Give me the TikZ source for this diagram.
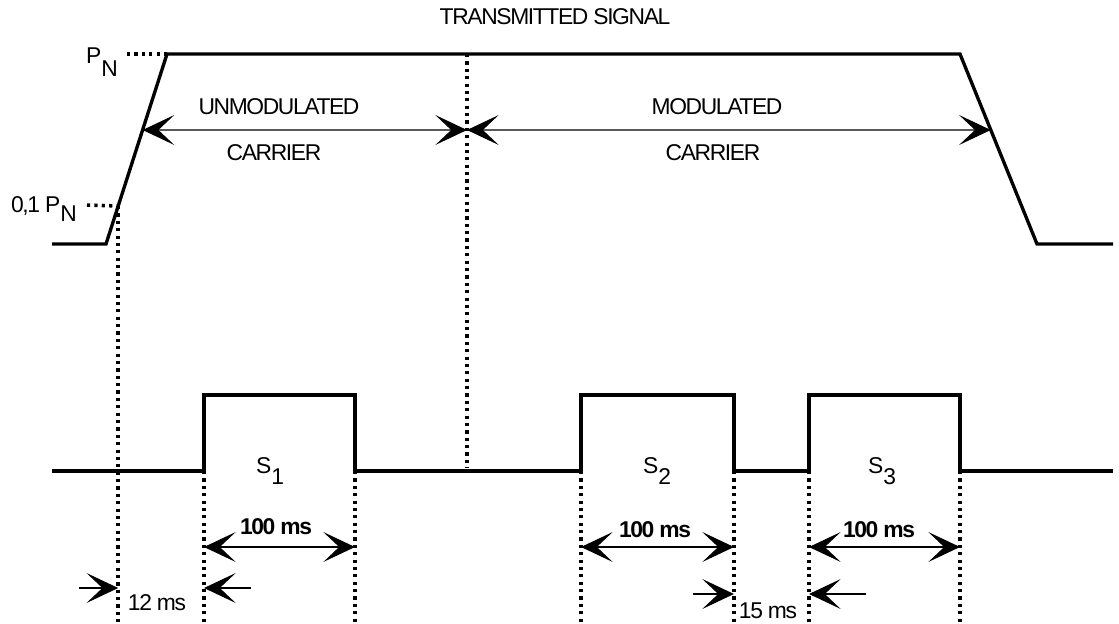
\documentclass[tikz,border=0pt]{standalone}
\usepackage{fontspec}
\setmainfont{Liberation Sans}[LetterSpace=-6]
\usepackage{tikz}
\usetikzlibrary{arrows.meta,positioning,calc}
\definecolor{Ink}{HTML}{000000}
\tikzset{
  >={Stealth[length=18pt,width=17pt,inset=9pt]},
  trace/.style={draw=Ink,line width=1.9pt},
  guide/.style={draw=Ink,line width=2pt,dash pattern=on 1.8pt off 2.4pt},
  dimarrow/.style={<->,draw=Ink,line width=0.6pt},
  leadarrow/.style={->,draw=Ink,line width=0.6pt},
  txt/.style={inner sep=0pt,font=\fontsize{13}{15}\selectfont,text=Ink},
  txtb/.style={txt,font=\fontsize{13}{15}\selectfont\bfseries}
}
\newcommand{\lowsub}[2]{#1\raisebox{-6pt}{#2}}

\begin{document}
\begin{tikzpicture}[x=0.02cm,y=-0.02cm]
  \useasboundingbox (0,0) rectangle (1119,623);
  % transmitted signal envelope
  \coordinate (env0) at (52,244);
  \coordinate (ramplo) at (106,244);
  \coordinate (ramphi) at (167,54);
  \coordinate (fallhi) at (960,54);
  \coordinate (falllo) at (1037,244);
  \coordinate (env1) at (1113,244);
  \draw[trace] (env0) -- (ramplo) -- (ramphi) -- (fallhi) -- (falllo) -- (env1);
  \coordinate (p01) at ($(ramplo)!0.2!(ramphi)$);
  \coordinate (ua) at ($(ramplo)!0.6!(ramphi)$);
  \coordinate (ma) at ($(falllo)!0.6!(fallhi)$);
  \coordinate (mid) at (467,130);
  \node[txt] (title) at (555,17) {TRANSMITTED SIGNAL};
  \node[txt] (pn) at (102,62) {P\raisebox{-7pt}{N}};
  \node[txt] (pn01) at (44,209) {0,1 P\raisebox{-5pt}{N}};
  \coordinate (pndot) at (127,54);
  \coordinate (pn01dot) at (87,205);
  \draw[guide] (pndot) -- (ramphi);
  \draw[guide] (pn01dot) -- (p01);
  \draw[guide] (467,54) -- (467,468);
  \draw[dimarrow] (ua) -- (mid);
  \draw[dimarrow] (mid) -- (ma);
  \node[txt] (unmod) at (279,107) {UNMODULATED};
  \node[txt] (ucar) at (274,153) {CARRIER};
  \node[txt] (mod) at (717,107) {MODULATED};
  \node[txt] (mcar) at (713,153) {CARRIER};
  % pulse train
  \draw[trace] (52,471) -- (204,471) -- (204,395) -- (355,395) -- (355,471)
    -- (581,471) -- (581,395) -- (734,395) -- (734,471)
    -- (809,471) -- (809,395) -- (960,395) -- (960,471) -- (1113,471);
  \node[txt] (s1) at (270,471) {\lowsub{S}{1}};
  \node[txt] (s2) at (657,471) {\lowsub{S}{2}};
  \node[txt] (s3) at (882,471) {\lowsub{S}{3}};
  \draw[guide] (p01) -- (p01 |- 0,623);
  \foreach \x/\n in {204/a,355/b,581/c,734/d,809/e,960/f} {
    \coordinate (top\n) at (\x,471);
    \coordinate (bot\n) at (\x,622);
    \coordinate (dim\n) at (\x,547);
    \draw[guide] (top\n) -- (bot\n);
  }
  \draw[dimarrow] (dima) -- (dimb);
  \draw[dimarrow] (dimc) -- (dimd);
  \draw[dimarrow] (dime) -- (dimf);
  \node[txtb] (w1) at (276,527) {100 ms};
  \node[txtb] (w2) at (655,530) {100 ms};
  \node[txtb] (w3) at (879,530) {100 ms};
  % delays
  \coordinate (d12a) at (79,588);
  \coordinate (d12b) at (251,588);
  \draw[leadarrow] (d12a) -- (d12a -| p01);
  \draw[leadarrow] (d12b) -- (d12b -| topa);
  \node[txt] (t12) at (157,603) {12 ms};
  \coordinate (d15a) at (693,594);
  \coordinate (d15b) at (866,594);
  \draw[leadarrow] (d15a) -- (d15a -| topd);
  \draw[leadarrow] (d15b) -- (d15b -| tope);
  \node[txt] (t15) at (768,611) {15 ms};
\end{tikzpicture}
\end{document}
